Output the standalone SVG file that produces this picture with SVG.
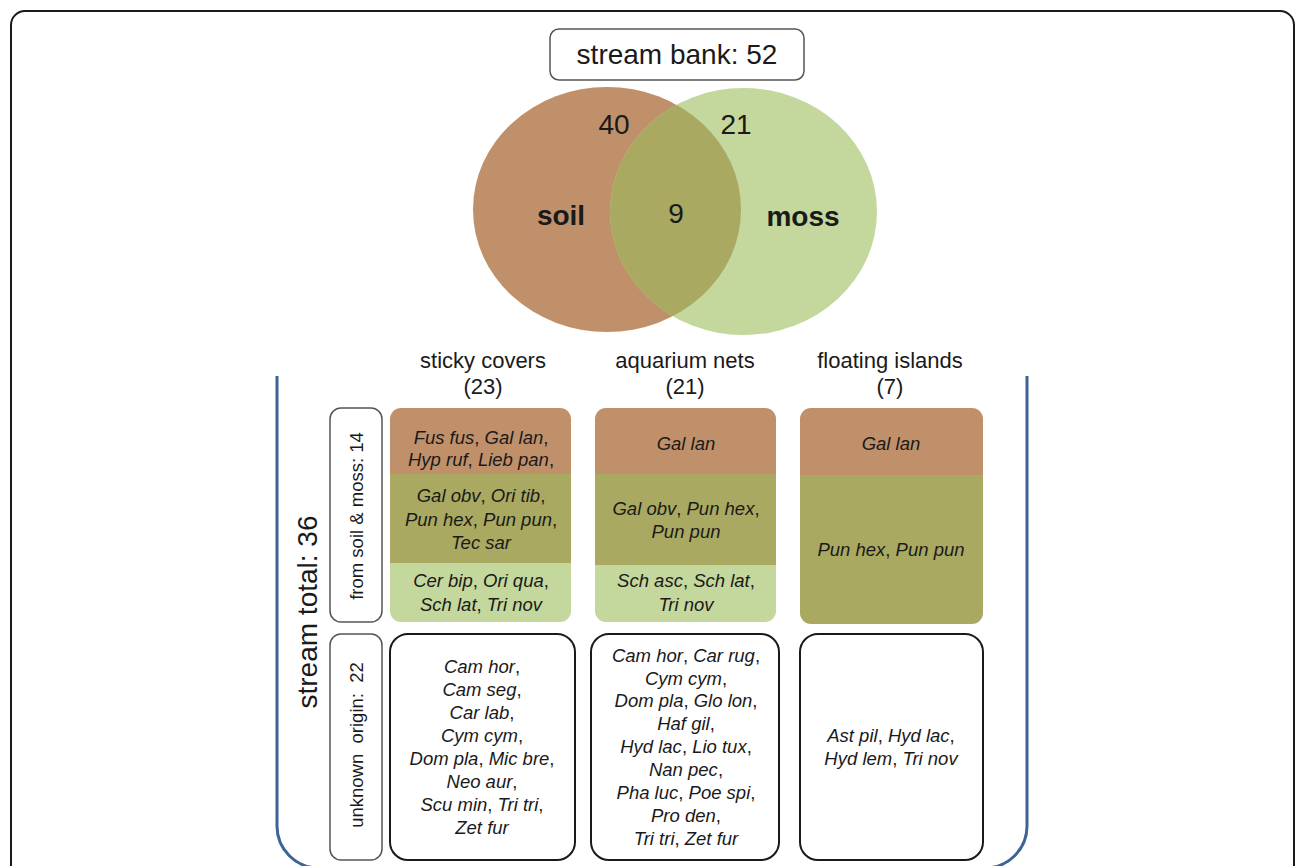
<svg xmlns="http://www.w3.org/2000/svg" width="1296" height="866" viewBox="0 0 1296 866">
<style>
text{font-family:"Liberation Sans",Arial,sans-serif;fill:#1a1a1a;text-anchor:middle}
.i{font-style:italic}
.sp{font-size:18.5px}
.hd{font-size:22px}
.big{font-size:28px}
.bold{font-weight:bold}
.lab{fill:#fff;stroke:#555;stroke-width:1.5}
.wb{fill:#fff;stroke:#1a1a1a;stroke-width:2}
.soil{fill:#C0906A}
.moss{fill:#C4D79C}
.both{fill:#A9A961}
</style>
<defs>
<clipPath id="soilclip"><ellipse cx="607" cy="209.5" rx="134" ry="122.5"/></clipPath>
<clipPath id="c1"><rect x="390" y="408" width="181" height="214" rx="11"/></clipPath>
<clipPath id="c2"><rect x="595" y="408" width="181" height="214" rx="11"/></clipPath>
<clipPath id="c3"><rect x="800" y="408" width="183" height="216" rx="11"/></clipPath>
</defs>
<rect x="11" y="11" width="1283" height="900" rx="14" fill="#fff" stroke="#1a1a1a" stroke-width="2"/>

<g id="stream-bank">
<rect x="550" y="29" width="254" height="51" rx="9" fill="#fff" stroke="#555" stroke-width="1.5"/>
<text x="677" y="64" class="big">stream bank: 52</text>
</g>

<g id="venn">
<ellipse class="soil" cx="607" cy="209.5" rx="134" ry="122.5"/>
<ellipse class="moss" cx="743.5" cy="211.5" rx="133.5" ry="123.5"/>
<ellipse class="both" cx="743.5" cy="211.5" rx="133.5" ry="123.5" clip-path="url(#soilclip)"/>
<text x="614" y="134" class="big">40</text>
<text x="736" y="134" class="big">21</text>
<text x="676" y="223" class="big">9</text>
<text x="561" y="225" class="big bold">soil</text>
<text x="803" y="226" class="big bold">moss</text>
</g>

<g id="connectors">
<path d="M277,376 V826 A42,42 0 0 0 319,868 H985 A42,42 0 0 0 1027,826 V376" fill="none" stroke="#3C6496" stroke-width="3"/>
</g>

<g id="stream-total">
<text transform="translate(317,612) rotate(-90)" class="big">stream total: 36</text>
</g>

<g id="headers">
<text x="483" y="368" class="hd">sticky covers</text>
<text x="483" y="394" class="hd">(23)</text>
<text x="685" y="368" class="hd">aquarium nets</text>
<text x="685" y="394" class="hd">(21)</text>
<text x="890" y="368" class="hd">floating islands</text>
<text x="890" y="394" class="hd">(7)</text>
</g>

<g id="label-soilmoss">
<rect class="lab" x="330" y="408" width="52" height="214" rx="11"/>
<text transform="translate(363,516) rotate(-90)" style="font-size:18.5px">from soil &amp; moss: 14</text>
</g>
<g id="label-unknown">
<rect class="lab" x="330" y="634" width="52" height="226" rx="11"/>
<text transform="translate(363,745) rotate(-90)" style="font-size:18.5px" xml:space="preserve">unknown  origin:  22</text>
</g>

<g id="sticky-known" clip-path="url(#c1)">
<rect class="soil" x="390" y="408" width="181" height="67"/>
<rect class="both" x="390" y="474" width="181" height="90"/>
<rect class="moss" x="390" y="563" width="181" height="60"/>
<text x="481" y="444" class="sp"><tspan class="i">Fus fus</tspan>, <tspan class="i">Gal lan</tspan>,</text>
<text x="481" y="466" class="sp"><tspan class="i">Hyp ruf</tspan>, <tspan class="i">Lieb pan</tspan>,</text>
<text x="481" y="502" class="sp"><tspan class="i">Gal obv</tspan>, <tspan class="i">Ori tib</tspan>,</text>
<text x="481" y="526" class="sp"><tspan class="i">Pun hex</tspan>, <tspan class="i">Pun pun</tspan>,</text>
<text x="481" y="549" class="sp"><tspan class="i">Tec sar</tspan></text>
<text x="481" y="587" class="sp"><tspan class="i">Cer bip</tspan>, <tspan class="i">Ori qua</tspan>,</text>
<text x="481" y="611" class="sp"><tspan class="i">Sch lat</tspan>, <tspan class="i">Tri nov</tspan></text>
</g>

<g id="aquarium-known" clip-path="url(#c2)">
<rect class="soil" x="595" y="408" width="181" height="67"/>
<rect class="both" x="595" y="474" width="181" height="92"/>
<rect class="moss" x="595" y="565" width="181" height="58"/>
<text x="686" y="450" class="sp"><tspan class="i">Gal lan</tspan></text>
<text x="686" y="515" class="sp"><tspan class="i">Gal obv</tspan>, <tspan class="i">Pun hex</tspan>,</text>
<text x="686" y="538" class="sp"><tspan class="i">Pun pun</tspan></text>
<text x="686" y="587" class="sp"><tspan class="i">Sch asc</tspan>, <tspan class="i">Sch lat</tspan>,</text>
<text x="686" y="611" class="sp"><tspan class="i">Tri nov</tspan></text>
</g>

<g id="floating-known" clip-path="url(#c3)">
<rect class="soil" x="800" y="408" width="183" height="68"/>
<rect class="both" x="800" y="475" width="183" height="150"/>
<text x="891" y="450" class="sp"><tspan class="i">Gal lan</tspan></text>
<text x="891" y="556" class="sp"><tspan class="i">Pun hex</tspan>, <tspan class="i">Pun pun</tspan></text>
</g>

<g id="sticky-unknown">
<rect class="wb" x="390" y="634" width="185" height="226" rx="18"/>
<text x="482" y="673" class="sp"><tspan class="i">Cam hor</tspan>,</text>
<text x="482" y="696" class="sp"><tspan class="i">Cam seg</tspan>,</text>
<text x="482" y="719" class="sp"><tspan class="i">Car lab</tspan>,</text>
<text x="482" y="742" class="sp"><tspan class="i">Cym cym</tspan>,</text>
<text x="482" y="765" class="sp"><tspan class="i">Dom pla</tspan>, <tspan class="i">Mic bre</tspan>,</text>
<text x="482" y="788" class="sp"><tspan class="i">Neo aur</tspan>,</text>
<text x="482" y="811" class="sp"><tspan class="i">Scu min</tspan>, <tspan class="i">Tri tri</tspan>,</text>
<text x="482" y="834" class="sp"><tspan class="i">Zet fur</tspan></text>
</g>

<g id="aquarium-unknown">
<rect class="wb" x="591" y="634" width="188" height="226" rx="18"/>
<text x="686" y="662" class="sp"><tspan class="i">Cam hor</tspan>, <tspan class="i">Car rug</tspan>,</text>
<text x="686" y="685" class="sp"><tspan class="i">Cym cym</tspan>,</text>
<text x="686" y="707" class="sp"><tspan class="i">Dom pla</tspan>, <tspan class="i">Glo lon</tspan>,</text>
<text x="686" y="730" class="sp"><tspan class="i">Haf gil</tspan>,</text>
<text x="686" y="753" class="sp"><tspan class="i">Hyd lac</tspan>, <tspan class="i">Lio tux</tspan>,</text>
<text x="686" y="776" class="sp"><tspan class="i">Nan pec</tspan>,</text>
<text x="686" y="799" class="sp"><tspan class="i">Pha luc</tspan>, <tspan class="i">Poe spi</tspan>,</text>
<text x="686" y="822" class="sp"><tspan class="i">Pro den</tspan>,</text>
<text x="686" y="845" class="sp"><tspan class="i">Tri tri</tspan>, <tspan class="i">Zet fur</tspan></text>
</g>

<g id="floating-unknown">
<rect class="wb" x="800" y="634" width="183" height="226" rx="18"/>
<text x="891" y="742" class="sp"><tspan class="i">Ast pil</tspan>, <tspan class="i">Hyd lac</tspan>,</text>
<text x="891" y="765" class="sp"><tspan class="i">Hyd lem</tspan>, <tspan class="i">Tri nov</tspan></text>
</g>
</svg>
